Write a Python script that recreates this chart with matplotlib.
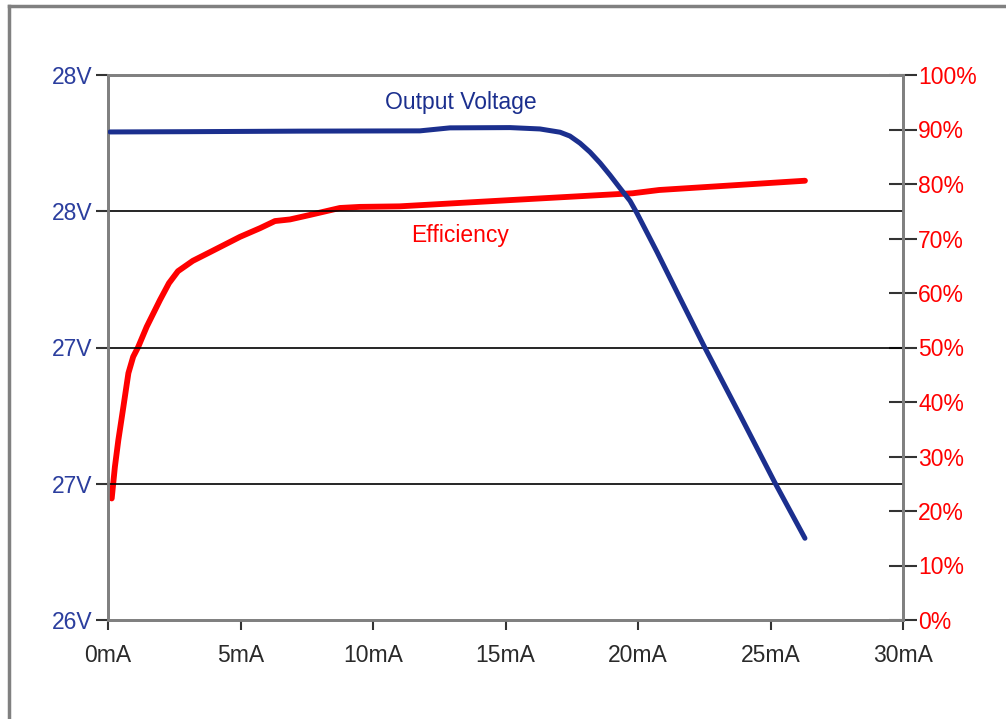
import numpy as np
import matplotlib.pyplot as plt
from matplotlib.lines import Line2D

plt.rcParams['font.family'] = ['Liberation Sans', 'DejaVu Sans']

#-------------------- data --------------------

# output voltage (left axis)
i_v = [0.08, 3.0, 7.25, 11.77, 12.9, 15.17, 16.3, 17.06, 17.43, 17.81, 18.19, 18.57,
       18.94, 19.32, 19.70, 19.96, 20.72, 21.58, 22.53, 23.85, 25.17, 26.3]
v_out = [27.791, 27.792, 27.794, 27.795, 27.806, 27.807, 27.802, 27.79, 27.776, 27.75, 27.717, 27.677,
         27.633, 27.585, 27.538, 27.493, 27.350, 27.182, 26.998, 26.752, 26.503, 26.30]

# efficiency (right axis, %)
i_e = [0.14, 0.26, 0.39, 0.58, 0.77, 0.95, 1.14, 1.46, 1.96, 2.3, 2.64, 3.2, 3.85, 4.98, 5.74, 6.3,
       6.87, 7.6, 8.75, 9.5, 11.0, 15.0, 19.8, 20.8, 26.3]
eff = [22.3, 28.1, 33.0, 39.1, 45.3, 48.3, 50.1, 53.8, 58.7, 61.8, 64.0, 65.9, 67.5, 70.3, 71.9, 73.2,
       73.5, 74.3, 75.6, 75.8, 75.9, 77.0, 78.3, 78.9, 80.6]

x_ticks = [0, 5, 10, 15, 20, 25, 30]
x_labels = ['0mA', '5mA', '10mA', '15mA', '20mA', '25mA', '30mA']
v_ticks = [26.0, 26.5, 27.0, 27.5, 28.0]
v_labels = ['26V', '27V', '27V', '28V', '28V']
e_ticks = [0, 10, 20, 30, 40, 50, 60, 70, 80, 90, 100]
e_labels = ['%d%%' % t for t in e_ticks]

blue = '#1b2f8e'
red = '#ff0000'
navy_txt = '#2b3e9e'
frame = '#808080'
fs = 16.5

#-------------------- the plot --------------------

fig = plt.figure(figsize=(10.06, 7.19), dpi=100)
ax = fig.add_axes([108/1006, 1 - 620/719, (903-108)/1006, (620-75)/719])
ax2 = ax.twinx()

ax.set_xlim(0, 30)
ax.set_ylim(26, 28)
ax2.set_ylim(0, 100)

# horizontal grid lines at the inner voltage ticks
for v in v_ticks[1:-1]:
    ax.axhline(v, color='black', lw=1.2, zorder=1)

ax.plot(i_v, v_out, color=blue, lw=3.6, solid_capstyle='round', solid_joinstyle='round', zorder=3)
ax2.plot(i_e, eff, color=red, lw=4.2, solid_capstyle='round', solid_joinstyle='round', zorder=3)

ax.text(13.3, 27.90, 'Output Voltage', color=blue, fontsize=fs, ha='center', va='center')
ax2.text(13.3, 70.5, 'Efficiency', color=red, fontsize=fs, ha='center', va='center')

for a in (ax, ax2):
    for s in a.spines.values():
        s.set_color(frame)
        s.set_linewidth(2)

ax.set_xticks(x_ticks)
ax.set_xticklabels(x_labels)
ax.set_yticks(v_ticks)
ax.set_yticklabels(v_labels)
ax2.set_yticks(e_ticks)
ax2.set_yticklabels(e_labels)

ax.tick_params(axis='x', direction='out', length=7, width=1.5, color='#333333',
               labelsize=fs, labelcolor='#2a2a2a', pad=10)
ax.tick_params(axis='y', direction='out', length=9, width=1.5, color='#333333',
               labelsize=fs, labelcolor=navy_txt, pad=2)
ax2.tick_params(axis='y', direction='inout', length=20, width=1.5, color='#333333',
                labelsize=fs, labelcolor=red, pad=1)

ax.set_zorder(ax2.get_zorder() + 1)
ax.patch.set_visible(False)

# outer frame, left and top edges only
fig.add_artist(Line2D([8.5/1006, 8.5/1006], [0, 1 - 6/719], color=frame, lw=2.5))
fig.add_artist(Line2D([8.5/1006, 1], [1 - 6/719, 1 - 6/719], color=frame, lw=2.5))

fig.savefig('out.png', dpi=100)
